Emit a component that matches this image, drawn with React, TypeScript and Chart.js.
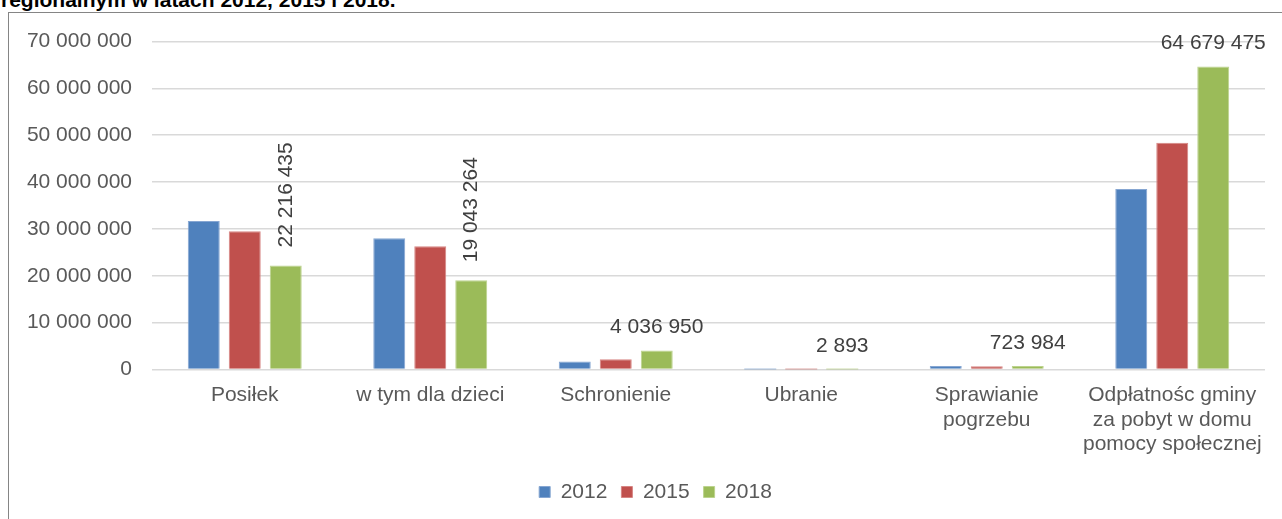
import React, { useEffect, useRef } from "react";
import { Chart, registerables } from "chart.js";

Chart.register(...registerables);

const titleText = "regionalnym w latach 2012, 2015 i 2018.";
const categories: (string | string[])[] = [
  "Posiłek",
  "w tym dla dzieci",
  "Schronienie",
  "Ubranie",
  ["Sprawianie", "pogrzebu"],
  ["Odpłatnośc gminy", "za pobyt w domu", "pomocy społecznej"],
];
const seriesLabels = ["2012", "2015", "2018"];
const values2012 = [31700000, 28000000, 1700000, 3500, 750000, 38500000];
const values2015 = [29500000, 26300000, 2200000, 3200, 700000, 48400000];
const values2018 = [22216435, 19043264, 4036950, 2893, 723984, 64679475];
const rotatedLabelIdx = [0, 1];
const yMax = 70000000;
const yStep = 10000000;

const colors = ["#4F81BD", "#C0504D", "#9BBB59"];
const borders = ["#86A6D2", "#D68583", "#BCD38E"];
const FONT = "'Liberation Sans', Arial, sans-serif";

const fmt = (v: number) =>
  Math.round(v)
    .toString()
    .replace(/\B(?=(\d{3})+(?!\d))/g, " ");

const labelPlugin = {
  id: "valueLabels",
  afterLayout(chart: any) {
    if (chart.legend) {
      chart.legend.left += 18.5;
      chart.legend.right += 18.5;
      if (chart.legend.adjustHitBoxes) chart.legend.adjustHitBoxes();
    }
  },
  afterDatasetsDraw(chart: any) {
    const ctx = chart.ctx;
    const meta = chart.getDatasetMeta(2);
    const data = chart.data.datasets[2].data as number[];
    ctx.save();
    ctx.fillStyle = "#404040";
    ctx.font = `21px ${FONT}`;
    meta.data.forEach((bar: any, i: number) => {
      const txt = fmt(data[i]);
      if (rotatedLabelIdx.includes(i)) {
        ctx.save();
        ctx.translate(bar.x, bar.y - 18);
        ctx.rotate(-Math.PI / 2);
        ctx.textAlign = "left";
        ctx.textBaseline = "middle";
        ctx.fillText(txt, 0, 0);
        ctx.restore();
      } else {
        ctx.textAlign = "center";
        ctx.textBaseline = "middle";
        ctx.fillText(txt, bar.x, bar.y - 23);
      }
    });
    ctx.restore();
  },
};

export default function App() {
  const ref = useRef<HTMLCanvasElement | null>(null);
  useEffect(() => {
    if (!ref.current) return;
    const datasets = [values2012, values2015, values2018].map((d, i) => ({
      label: seriesLabels[i],
      data: d,
      backgroundColor: colors[i],
      borderColor: borders[i],
      borderWidth: (c: any) => (Math.abs(c.raw ?? 0) < 100000 ? 0 : 1),
      categoryPercentage: 0.663,
      barPercentage: 0.78,
    }));
    const chart = new Chart(ref.current, {
      type: "bar",
      data: { labels: categories as any, datasets },
      plugins: [labelPlugin],
      options: {
        animation: false,
        responsive: true,
        maintainAspectRatio: false,
        layout: { padding: { top: 28.5, right: 17, bottom: 6.5, left: 0 } },
        plugins: {
          legend: {
            position: "bottom",
            labels: {
              boxWidth: 11,
              boxHeight: 11,
              padding: 14,
              color: "#595959",
              font: { family: FONT, size: 21 },
            },
          },
          tooltip: { enabled: false },
        },
        scales: {
          x: {
            grid: { display: false },
            border: { display: false },
            ticks: {
              color: "#595959",
              padding: 6,
              maxRotation: 0,
              autoSkip: false,
              font: { family: FONT, size: 21, lineHeight: 1.15 },
            },
            afterFit: (s: any) => {
              s.height = 98;
            },
          },
          y: {
            min: 0,
            max: yMax,
            grid: { color: "#d9d9d9", lineWidth: 1.5, drawTicks: false },
            border: { display: false },
            ticks: {
              stepSize: yStep,
              color: "#595959",
              padding: 20,
              font: { family: FONT, size: 21 },
              callback: (v: any) => fmt(Number(v)),
            },
            afterFit: (s: any) => {
              s.width = 143;
              s.paddingTop = 0;
              s.paddingBottom = 0;
            },
          },
        },
      } as any,
    });
    return () => chart.destroy();
  }, []);

  return (
    <div>
      <div
        style={{
          position: "absolute",
          left: 1,
          top: -12.5,
          fontFamily: FONT,
          fontWeight: "bold",
          fontSize: 21,
          color: "#000",
          whiteSpace: "nowrap",
        }}
      >
        {titleText}
      </div>
      <div
        style={{
          position: "absolute",
          left: 8,
          top: 12,
          width: 1400,
          height: 600,
          border: "1px solid #858585",
          boxSizing: "border-box",
        }}
      />
      <div
        style={{
          position: "absolute",
          left: 9,
          top: 13,
          width: 1273,
          height: 506,
        }}
      >
        <canvas ref={ref} />
      </div>
    </div>
  );
}
